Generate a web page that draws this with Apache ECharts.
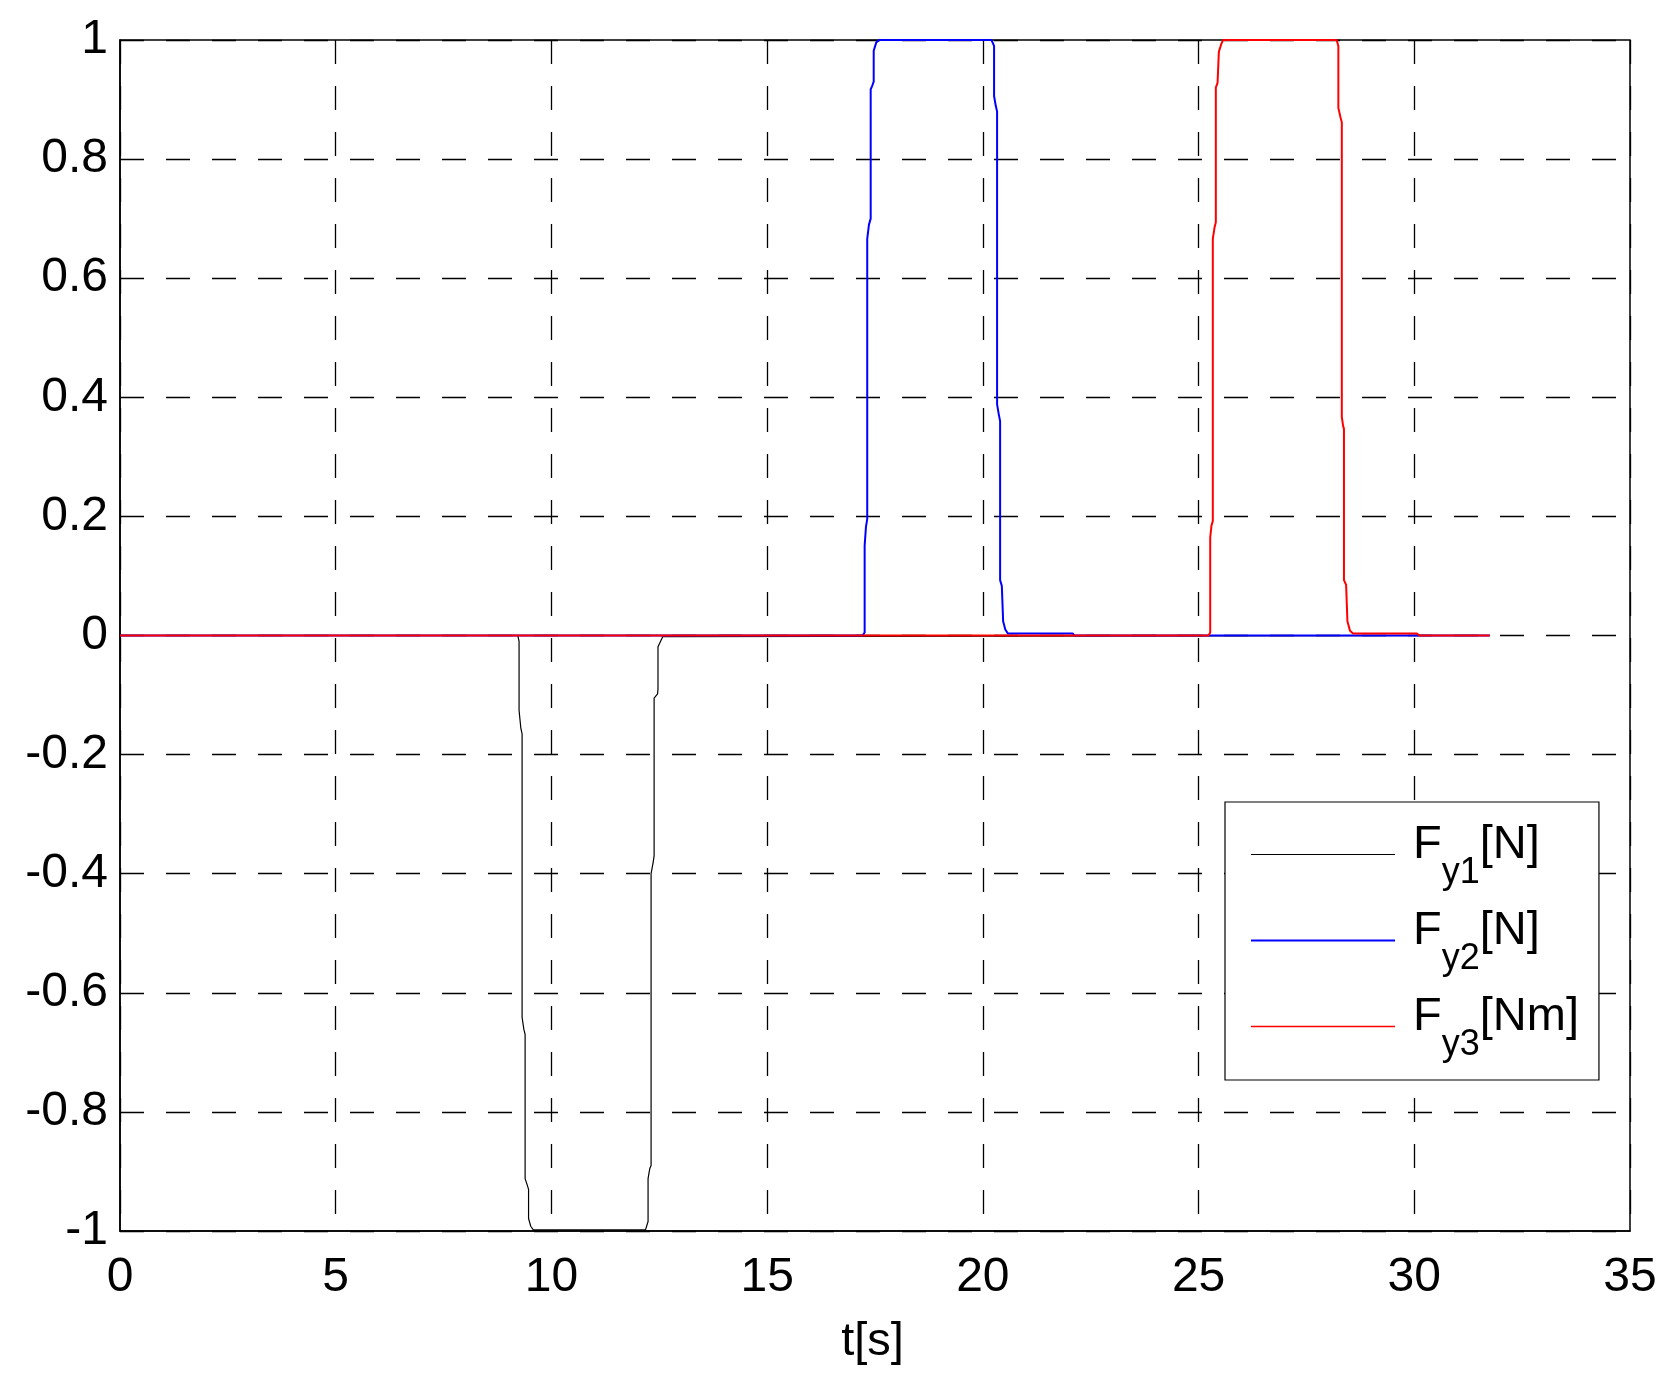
<!DOCTYPE html>
<html>
<head>
<meta charset="utf-8">
<script src="https://cdn.jsdelivr.net/npm/echarts@6/dist/echarts.min.js"></script>
<style>
  html, body { margin: 0; padding: 0; background: #fff; }
  #grafico { width: 1680px; height: 1397px; }
</style>
</head>
<body>
<div id="grafico"></div>
<script>
// valores (t en segundos)
const tFy1 = [0, 9.22, 9.25, 9.25, 9.29, 9.32, 9.32, 9.36, 9.39, 9.39, 9.44, 9.47, 9.47, 9.52, 9.58,
  12.18, 12.24, 12.24, 12.28, 12.31, 12.31, 12.36, 12.38, 12.38, 12.46, 12.47, 12.47, 12.58, 12.62, 31.75]
const yFy1 = [0, 0, -0.01, -0.126, -0.155, -0.165, -0.641, -0.661, -0.67, -0.912, -0.923, -0.93, -0.979, -0.992, -0.998,
  -0.998, -0.984, -0.912, -0.895, -0.89, -0.40, -0.38, -0.37, -0.105, -0.098, -0.09, -0.019, -0.002, 0, 0]

const tFy2 = [0, 17.21, 17.26, 17.26, 17.29, 17.32, 17.32, 17.36, 17.40, 17.40, 17.44, 17.47, 17.47, 17.53, 17.60,
  20.20, 20.26, 20.26, 20.30, 20.33, 20.33, 20.37, 20.40, 20.40, 20.44, 20.47, 20.47, 20.52, 20.58, 22.08, 22.12, 31.75]
const yFy2 = [0, 0, 0.005, 0.151, 0.182, 0.196, 0.666, 0.69, 0.70, 0.917, 0.924, 0.93, 0.982, 0.996, 1,
  1, 0.99, 0.906, 0.889, 0.88, 0.388, 0.371, 0.36, 0.093, 0.083, 0.08, 0.024, 0.01, 0.0034, 0.0034, 0, 0]

const tFy3 = [0, 25.23, 25.27, 25.27, 25.30, 25.33, 25.33, 25.37, 25.40, 25.40, 25.44, 25.47, 25.47, 25.53, 25.57,
  28.20, 28.24, 28.24, 28.29, 28.32, 28.32, 28.35, 28.37, 28.37, 28.42, 28.45, 28.45, 28.51, 28.58, 30.06, 30.12, 31.75]
const yFy3 = [0, 0, 0.005, 0.165, 0.185, 0.192, 0.666, 0.685, 0.694, 0.92, 0.928, 0.931, 0.98, 0.994, 1,
  1, 0.99, 0.886, 0.87, 0.862, 0.367, 0.352, 0.347, 0.093, 0.085, 0.082, 0.024, 0.008, 0.0034, 0.0034, 0, 0]

const nombres = ['Fy1[N]', 'Fy2[N]', 'Fy3[Nm]']
const colores = ['#000000', '#0000ff', '#ff0000']
const anchos = [1.2, 2, 2]
const anchosLeyenda = [1.2, 2, 1.3]
const ticksX = [0, 5, 10, 15, 20, 25, 30, 35]
const ticksY = [-1, -0.8, -0.6, -0.4, -0.2, 0, 0.2, 0.4, 0.6, 0.8, 1]

const fuente = "'Liberation Sans', Arial, Helvetica, sans-serif"
const rejilla = { show: true, lineStyle: { color: '#000', width: 1.3, type: [24, 22] } }

const juntar = (ts, ys) => ts.map((t, i) => [t, ys[i]])
const datos = [juntar(tFy1, yFy1), juntar(tFy2, yFy2), juntar(tFy3, yFy3)]

// icono de leyenda: raya horizontal algo por debajo del centro (como en MATLAB)
const ALTO_ICONO = 30
const iconoRaya = grosor => {
  const y0 = 24 - grosor / 2
  const y1 = 24 + grosor / 2
  return `path://M0,0L0.01,0L0.01,0.01Z M0,${ALTO_ICONO}L0.01,${ALTO_ICONO}L0.01,${ALTO_ICONO - 0.01}Z ` +
    `M0,${y0}L144,${y0}L144,${y1}L0,${y1}Z`
}

const miGrafico = echarts.init(document.getElementById('grafico'), null, { renderer: 'canvas' })

const opciones = {
  animation: false,
  backgroundColor: '#fff',
  textStyle: { fontFamily: fuente },
  grid: {
    left: 120,
    top: 40,
    width: 1510,
    height: 1191,
    show: true,
    borderColor: '#000',
    borderWidth: 1.5,
    backgroundColor: 'transparent'
  },
  legend: {
    orient: 'vertical',
    left: 1225,
    top: 802,
    padding: [20, 20, 0, 26],
    itemWidth: 144,
    itemHeight: ALTO_ICONO,
    itemGap: 0,
    borderColor: '#000',
    borderWidth: 1.2,
    borderRadius: 0,
    backgroundColor: '#fff',
    selectedMode: false,
    itemStyle: { borderWidth: 0 },
    data: nombres.map((nombre, i) => ({ name: nombre, icon: iconoRaya(anchosLeyenda[i]) })),
    formatter: nombre => {
      const m = nombre.match(/^F(y\d)(\[.*\])$/)
      return `{f|F}{s|${m[1]}}{n|${m[2]}}`
    },
    textStyle: {
      rich: {
        f: { fontFamily: fuente, fontSize: 47, lineHeight: 47, color: '#000', verticalAlign: 'top', padding: [0, 0, 0, 13] },
        s: { fontFamily: fuente, fontSize: 36, lineHeight: 36, color: '#000', verticalAlign: 'top', padding: [33, 0, 17, 0] },
        n: { fontFamily: fuente, fontSize: 47, lineHeight: 47, color: '#000', verticalAlign: 'top' }
      }
    }
  },
  xAxis: {
    type: 'value',
    min: ticksX[0],
    max: ticksX[ticksX.length - 1],
    interval: 5,
    name: 't[s]',
    nameLocation: 'middle',
    nameGap: 88,
    nameTextStyle: { fontFamily: fuente, fontSize: 47, color: '#000', padding: [0, 5, 0, 0] },
    axisLine: { show: true, onZero: false, lineStyle: { color: '#000', width: 1.5 } },
    axisTick: { show: false },
    axisLabel: { fontFamily: fuente, fontSize: 48, color: '#000', margin: 23, showMinLabel: true, showMaxLabel: true },
    splitLine: rejilla
  },
  yAxis: {
    type: 'value',
    min: ticksY[0],
    max: ticksY[ticksY.length - 1],
    interval: 0.2,
    axisLine: { show: true, onZero: false, lineStyle: { color: '#000', width: 1.5 } },
    axisTick: { show: false },
    axisLabel: {
      fontFamily: fuente,
      fontSize: 48,
      color: '#000',
      margin: 12,
      showMinLabel: true,
      showMaxLabel: true,
      formatter: v => String(+v.toFixed(1))
    },
    splitLine: rejilla
  },
  series: nombres.map((nombre, i) => ({
    name: nombre,
    type: 'line',
    data: datos[i],
    symbol: 'none',
    showSymbol: false,
    smooth: false,
    clip: true,
    color: colores[i],
    lineStyle: { color: colores[i], width: anchos[i] },
    emphasis: { disabled: true },
    z: 3 + i
  }))
}

miGrafico.setOption(opciones)

window.addEventListener('resize', () => miGrafico.resize())
</script>
</body>
</html>
